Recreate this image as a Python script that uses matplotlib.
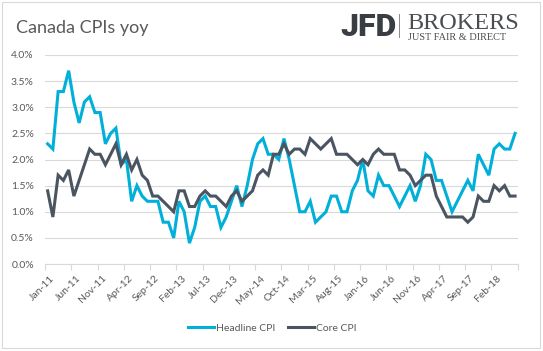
import matplotlib
matplotlib.use("Agg")
import matplotlib.pyplot as plt
from matplotlib.patches import Rectangle
from matplotlib.ticker import FuncFormatter, FixedLocator
import matplotlib.transforms as mtransforms

# monthly yoy %, Jan-11 .. Jun-18
headline = [2.3, 2.2, 3.3, 3.3, 3.7, 3.1, 2.7, 3.1, 3.2, 2.9, 2.9, 2.3,
            2.5, 2.6, 1.9, 2.0, 1.2, 1.5, 1.3, 1.2, 1.2, 1.2, 0.8, 0.8,
            0.5, 1.2, 1.0, 0.4, 0.7, 1.2, 1.3, 1.1, 1.1, 0.7, 0.9, 1.2,
            1.5, 1.1, 1.5, 2.0, 2.3, 2.4, 2.1, 2.1, 2.0, 2.4, 2.0, 1.5,
            1.0, 1.0, 1.2, 0.8, 0.9, 1.0, 1.3, 1.3, 1.0, 1.0, 1.4, 1.6,
            2.0, 1.4, 1.3, 1.7, 1.5, 1.5, 1.3, 1.1, 1.3, 1.5, 1.2, 1.5,
            2.1, 2.0, 1.6, 1.6, 1.3, 1.0, 1.2, 1.4, 1.6, 1.4, 2.1, 1.9,
            1.7, 2.2, 2.3, 2.2, 2.2, 2.5]
core = [1.4, 0.9, 1.7, 1.6, 1.8, 1.3, 1.6, 1.9, 2.2, 2.1, 2.1, 1.9,
        2.1, 2.3, 1.9, 2.1, 1.8, 2.0, 1.7, 1.6, 1.3, 1.3, 1.2, 1.1,
        1.0, 1.4, 1.4, 1.1, 1.1, 1.3, 1.4, 1.3, 1.3, 1.2, 1.1, 1.3,
        1.4, 1.2, 1.3, 1.4, 1.7, 1.8, 1.7, 2.1, 2.1, 2.3, 2.1, 2.2,
        2.2, 2.1, 2.4, 2.3, 2.2, 2.3, 2.4, 2.1, 2.1, 2.1, 2.0, 1.9,
        2.0, 1.9, 2.1, 2.2, 2.1, 2.1, 2.1, 1.8, 1.8, 1.7, 1.5, 1.6,
        1.7, 1.7, 1.3, 1.1, 0.9, 0.9, 0.9, 0.9, 0.8, 0.9, 1.3, 1.2,
        1.2, 1.5, 1.4, 1.5, 1.3, 1.3]
tick_labels = ["Jan-11", "Jun-11", "Nov-11", "Apr-12", "Sep-12", "Feb-13",
               "Jul-13", "Dec-13", "May-14", "Oct-14", "Mar-15", "Aug-15",
               "Jan-16", "Jun-16", "Nov-16", "Apr-17", "Sep-17", "Feb-18"]

FONT = "Lato"
TXT = "#595959"
GRID = "#d9d9d9"

fig = plt.figure(figsize=(5.43, 3.51), dpi=100)
fig.patch.set_facecolor("white")
fig.patches.append(Rectangle((2 / 543, 3 / 351), 538 / 543, 346 / 351,
                             transform=fig.transFigure, fill=False,
                             edgecolor=GRID, linewidth=0.8))

ax = fig.add_axes([45 / 543, 87 / 351, 472.7 / 543, 209 / 351])
x = list(range(len(headline)))
ax.plot(x, headline, color="#00b0d8", linewidth=2.2, label="Headline CPI",
        solid_joinstyle="miter")
ax.plot(x, core, color="#4b5562", linewidth=2.2, label="Core CPI",
        solid_joinstyle="miter")

ax.set_xlim(-0.5, len(headline) - 0.5)
ax.set_ylim(0, 4.0)
ax.set_yticks([0.5 * k for k in range(9)])
ax.yaxis.set_major_formatter(FuncFormatter(lambda v, p: f"{v:.1f}%"))
ax.grid(axis="y", color=GRID, linewidth=0.8)
ax.set_axisbelow(True)
for s in ["left", "right", "top"]:
    ax.spines[s].set_visible(False)
ax.spines["bottom"].set_color(GRID)
ax.spines["bottom"].set_linewidth(0.8)

# tick marks at category boundaries, labels on categories
ax.xaxis.set_major_locator(FixedLocator([-0.5 + 5 * k for k in range(19)]))
ax.xaxis.set_major_formatter(FuncFormatter(lambda v, p: ""))
ax.xaxis.set_minor_locator(FixedLocator([5 * k for k in range(len(tick_labels))]))
ax.set_xticklabels(tick_labels, minor=True)
ax.tick_params(axis="x", which="major", length=4, color=GRID, width=0.8)
ax.tick_params(axis="x", which="minor", length=0, pad=7, labelsize=7.5,
               labelcolor=TXT)
ax.tick_params(axis="y", length=0, pad=8, labelsize=7.5, labelcolor=TXT)
offset = mtransforms.ScaledTranslation(2 / 100, 0, fig.dpi_scale_trans)
for lab in ax.get_xticklabels(minor=True):
    lab.set_rotation(45)
    lab.set_ha("right")
    lab.set_va("top")
    lab.set_rotation_mode("anchor")
    lab.set_fontfamily(FONT)
    lab.set_transform(lab.get_transform() + offset)
for lab in ax.get_yticklabels():
    lab.set_fontfamily(FONT)

leg = fig.legend(loc="center", bbox_to_anchor=(272 / 543, 23 / 351), ncol=2,
                 frameon=False, handlelength=2.5, handletextpad=0.2,
                 columnspacing=1.2, prop={"family": FONT, "size": 7.5})
for t in leg.get_texts():
    t.set_color(TXT)

# title and logo
fig.text(16 / 543, 1 - 33 / 351, "Canada CPIs yoy", family=FONT, fontsize=13,
         color=TXT, ha="left", va="baseline")
fig.text(340 / 543, 1 - 36 / 351, "JFD", family="Roboto", fontweight="black",
         fontsize=23, color="#393e44", ha="left", va="baseline")
fig.add_artist(plt.Line2D([399 / 543, 399 / 543], [1 - 14 / 351, 1 - 37 / 351],
                          transform=fig.transFigure, color="#8a8a8a", linewidth=0.7))
fig.text(407 / 543, 1 - 29 / 351, "BROKERS", family="Liberation Serif",
         fontsize=17.5, color="#4a4d52", ha="left", va="baseline")
fig.text(408 / 543, 1 - 40 / 351, "JUST FAIR & DIRECT", family="Liberation Serif",
         fontsize=7.4, color="#4a4d52", ha="left", va="baseline")

fig.savefig("out.png", dpi=100)
